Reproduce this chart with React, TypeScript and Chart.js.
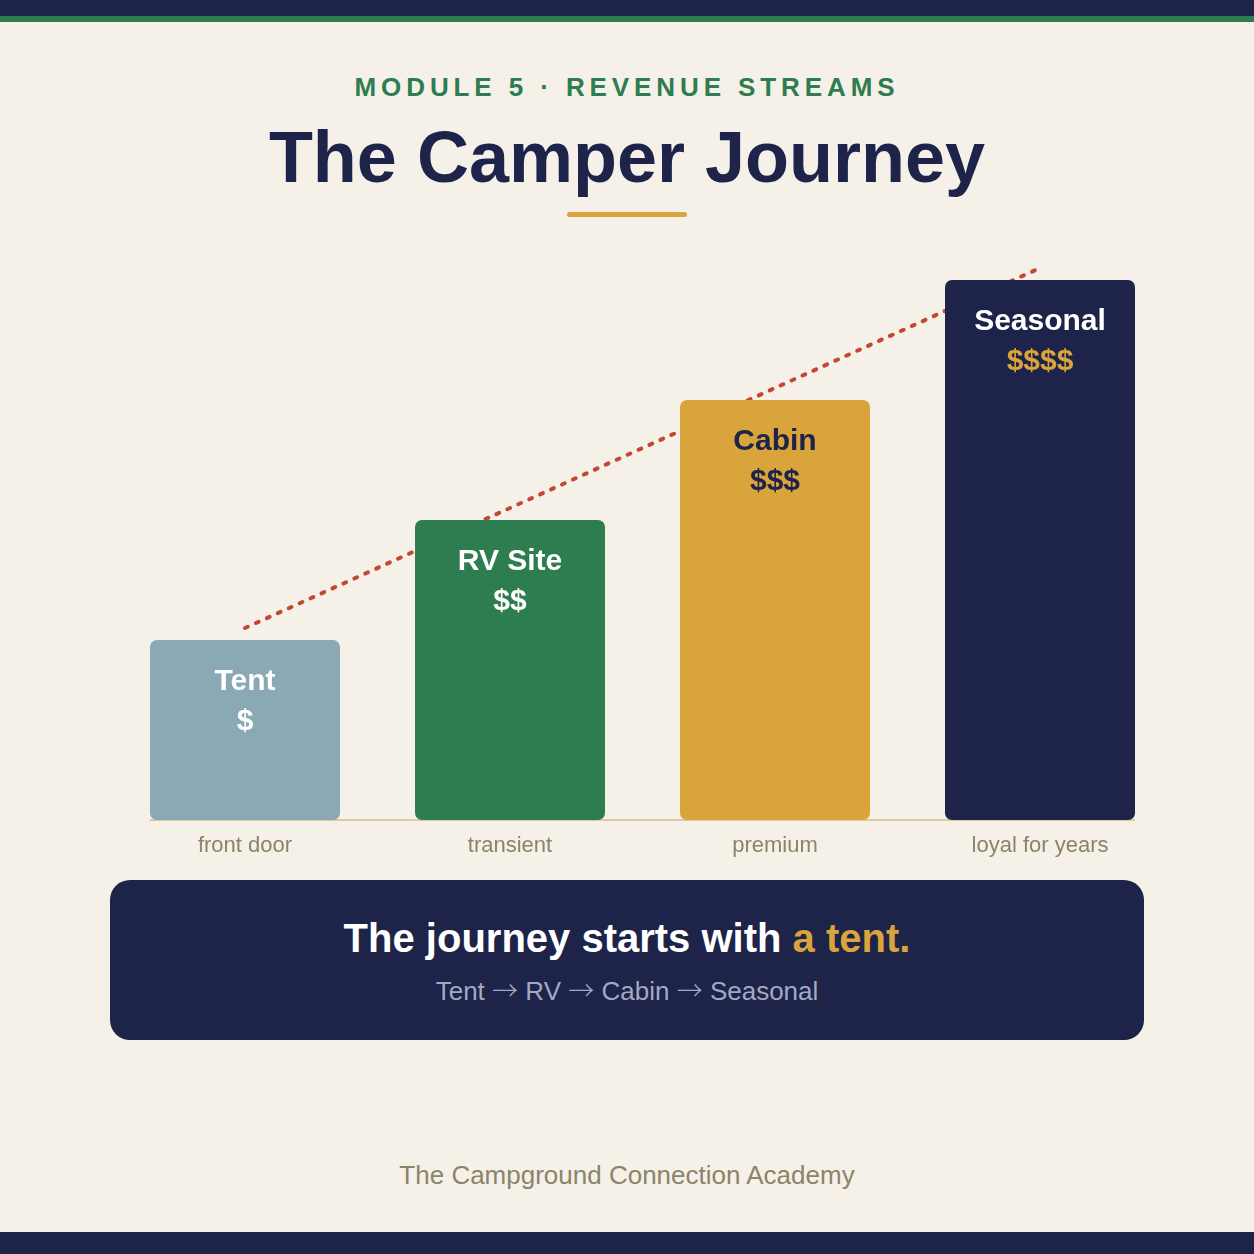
import React, { useEffect, useRef } from "react";
import { Chart, registerables } from "chart.js";

Chart.register(...registerables);

const categories = ["Tent", "RV Site", "Cabin", "Seasonal"];
const priceTiers = ["$", "$$", "$$$", "$$$$"];
const stages = ["front door", "transient", "premium", "loyal for years"];
const revenueIndex = [3, 5, 7, 9];
const trendValues = [3.2, 5.2, 7.2, 9.2];
const journeySteps = ["Tent", "RV", "Cabin", "Seasonal"];

const NAVY = "#1d2349";
const GREEN = "#2e7d51";
const GOLD = "#d8a43b";
const SLATE = "#8ba8b5";
const CREAM = "#f5f0e8";
const OLIVE = "#8b8468";
const RUST = "#c4472f";
const TAN = "#dccaa2";
const FONT = '"Liberation Sans", Arial, Helvetica, sans-serif';

const barColors = [SLATE, GREEN, GOLD, NAVY];
const nameColors = ["#ffffff", "#ffffff", NAVY, "#ffffff"];
const priceColors = ["#ffffff", "#ffffff", NAVY, GOLD];

const overlayPlugin = {
  id: "overlay",
  beforeDatasetsDraw(chart: any) {
    const ctx = chart.ctx;
    const meta = chart.getDatasetMeta(1);
    const y0 = chart.scales.y.getPixelForValue(0);
    const first = meta.data[0];
    const last = meta.data[meta.data.length - 1];
    ctx.save();
    ctx.fillStyle = TAN;
    ctx.fillRect(first.x - first.width / 2, y0 - 1, last.x + last.width / 2 - (first.x - first.width / 2), 2);
    ctx.restore();
  },
  afterDatasetsDraw(chart: any) {
    const ctx = chart.ctx;
    const meta = chart.getDatasetMeta(1);
    const y0 = chart.scales.y.getPixelForValue(0);
    ctx.save();
    ctx.textAlign = "center";
    ctx.textBaseline = "middle";
    meta.data.forEach((bar: any, i: number) => {
      ctx.font = `bold 30px ${FONT}`;
      ctx.fillStyle = nameColors[i];
      ctx.fillText(categories[i], bar.x, bar.y + 42);
      ctx.fillStyle = priceColors[i];
      ctx.fillText(priceTiers[i], bar.x, bar.y + 82);
      ctx.font = `22px ${FONT}`;
      ctx.fillStyle = OLIVE;
      ctx.fillText(stages[i], bar.x, y0 + 26);
    });
    ctx.restore();
  },
};

function CamperChart() {
  const ref = useRef<HTMLCanvasElement | null>(null);
  useEffect(() => {
    if (!ref.current) return;
    const chart = new Chart(ref.current, {
      data: {
        labels: categories,
        datasets: [
          {
            type: "line",
            label: "Trend",
            data: trendValues,
            borderColor: RUST,
            borderWidth: 4,
            borderDash: [3, 9],
            borderCapStyle: "round",
            pointRadius: 0,
            tension: 0,
            fill: false,
            order: 2,
          } as any,
          {
            type: "bar",
            label: "Revenue",
            data: revenueIndex,
            backgroundColor: barColors,
            borderWidth: 0,
            borderRadius: 7,
            borderSkipped: false,
            categoryPercentage: 1,
            barPercentage: 190 / 265,
            order: 1,
          } as any,
        ],
      },
      options: {
        responsive: false,
        animation: false,
        layout: { padding: { left: 112.5, right: 81.5, top: 20, bottom: 50 } },
        plugins: { legend: { display: false }, tooltip: { enabled: false } },
        scales: {
          x: { display: false },
          y: { display: false, min: 0, max: 10 },
        },
      },
      plugins: [overlayPlugin],
    } as any);
    return () => chart.destroy();
  }, []);
  return (
    <canvas
      ref={ref}
      width={1254}
      height={670}
      style={{ position: "absolute", left: 0, top: 200, width: 1254, height: 670 }}
    />
  );
}

export default function App() {
  useEffect(() => {
    document.body.style.margin = "0";
  }, []);
  const center: React.CSSProperties = {
    position: "absolute",
    left: 0,
    width: 1254,
    textAlign: "center",
    fontFamily: FONT,
    whiteSpace: "nowrap",
  };
  return (
    <div style={{ position: "relative", width: 1254, height: 1254, background: CREAM, overflow: "hidden" }}>
      <div style={{ position: "absolute", left: 0, top: 0, width: 1254, height: 16, background: NAVY }} />
      <div style={{ position: "absolute", left: 0, top: 16, width: 1254, height: 6, background: GREEN }} />
      <div
        style={{
          ...center,
          top: 72,
          fontSize: 26,
          lineHeight: "30px",
          fontWeight: 700,
          letterSpacing: "4.9px",
          color: GREEN,
        }}
      >
        MODULE 5 · REVENUE STREAMS
      </div>
      <div style={{ ...center, top: 117, fontSize: 72, lineHeight: "80px", fontWeight: 700, color: NAVY }}>
        The Camper Journey
      </div>
      <div
        style={{ position: "absolute", left: 567, top: 212, width: 120, height: 5, borderRadius: 3, background: GOLD }}
      />
      <CamperChart />
      <div
        style={{
          position: "absolute",
          left: 110,
          top: 880,
          width: 1034,
          height: 160,
          borderRadius: 20,
          background: NAVY,
        }}
      />
      <div style={{ ...center, top: 914, fontSize: 40, lineHeight: "48px", fontWeight: 700, color: "#ffffff" }}>
        The journey starts with <span style={{ color: GOLD }}>a tent.</span>
      </div>
      <div style={{ ...center, top: 974, fontSize: 26, lineHeight: "30px", color: "#a3a8c3" }}>
        {journeySteps.map((s, i) => (
          <React.Fragment key={s}>
            {i > 0 ? (
              <>
                {" "}
                <span style={{ fontFamily: '"Noto Sans CJK SC", "DejaVu Sans", sans-serif', fontWeight: 300 }}>→</span>{" "}
              </>
            ) : null}
            {s}
          </React.Fragment>
        ))}
      </div>
      <div style={{ ...center, top: 1160, fontSize: 26, lineHeight: "30px", color: OLIVE }}>
        The Campground Connection Academy
      </div>
      <div style={{ position: "absolute", left: 0, top: 1232, width: 1254, height: 22, background: NAVY }} />
    </div>
  );
}
